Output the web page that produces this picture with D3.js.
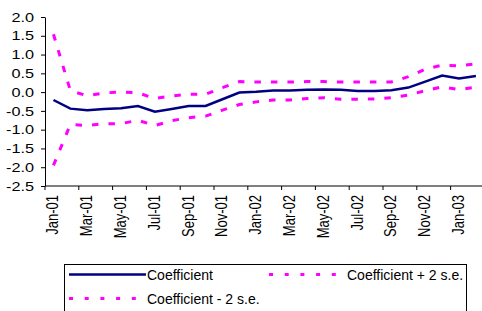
<!DOCTYPE html>
<html>
<head>
<meta charset="utf-8">
<title>Coefficient with 2 s.e. bands</title>
<script src="https://d3js.org/d3.v7.min.js"></script>
<style>
  body {margin: 0; background: #fff;}
  svg {display: block; font-family: "Liberation Sans", Arial, sans-serif;}
</style>
</head>
<body>
<svg width="482" height="311"></svg>
<script>
// months Jan-01 .. Feb-03
var months = ["Jan-01","Feb-01","Mar-01","Apr-01","May-01","Jun-01","Jul-01","Aug-01","Sep-01","Oct-01","Nov-01","Dec-01",
              "Jan-02","Feb-02","Mar-02","Apr-02","May-02","Jun-02","Jul-02","Aug-02","Sep-02","Oct-02","Nov-02","Dec-02",
              "Jan-03","Feb-03"];
var coef  = [-0.21,-0.44,-0.48,-0.45,-0.43,-0.37,-0.52,-0.45,-0.37,-0.37,-0.19,-0.01,
             0.01,0.04,0.04,0.06,0.07,0.06,0.03,0.03,0.05,0.12,0.28,0.44,0.36,0.43];
var upper = [1.54,0.04,-0.10,-0.02,0.00,-0.02,-0.17,-0.10,-0.06,-0.06,0.12,0.28,
             0.27,0.27,0.27,0.28,0.28,0.27,0.27,0.27,0.27,0.41,0.61,0.72,0.70,0.75];
var lower = [-1.95,-0.86,-0.89,-0.84,-0.84,-0.75,-0.89,-0.76,-0.68,-0.64,-0.48,-0.33,
             -0.26,-0.21,-0.21,-0.17,-0.15,-0.19,-0.19,-0.18,-0.15,-0.08,0.04,0.14,0.07,0.13];
var yTicks = [2.0,1.5,1.0,0.5,0.0,-0.5,-1.0,-1.5,-2.0,-2.5];
var legendNames = ["Coefficient","Coefficient + 2 s.e.","Coefficient - 2 s.e."];

var svg = d3.select("svg");
var plotLeft = 45, plotTop = 17, plotBottom = 186;
var stretch = 1.25; // axis labels in the picture are a bit wide

var x = d3.scaleBand().domain(months).range([plotLeft, plotLeft + 16.9 * months.length]);
var y = d3.scaleLinear().domain([-2.5, 2.0]).range([plotBottom, plotTop]);

// y axis
var yAxis = svg.append("g").attr("transform", "translate(" + plotLeft + ",0)")
  .call(d3.axisLeft(y).tickValues(yTicks).tickSize(4).tickSizeOuter(0)
        .tickFormat(function(d) { return d.toFixed(1); }));
yAxis.select(".domain").attr("stroke", "#000");
yAxis.selectAll("text").attr("x", -11 / stretch).attr("font-size", 13).attr("fill", "#000")
  .attr("font-family", "Liberation Sans, Arial, sans-serif")
  .attr("transform", "scale(" + stretch + ",1)");

// x axis line + ticks on every other category boundary
svg.append("line").attr("x1", plotLeft).attr("x2", 482).attr("y1", plotBottom).attr("y2", plotBottom)
  .attr("stroke", "#000");
var labelled = months.filter(function(d, i) { return i % 2 === 0; });
svg.selectAll(".xt").data(labelled).enter().append("line")
  .attr("x1", function(d) { return x(d); }).attr("x2", function(d) { return x(d); })
  .attr("y1", plotBottom).attr("y2", plotBottom + 4).attr("stroke", "#000");
svg.selectAll(".xl").data(labelled).enter().append("text")
  .attr("transform", function(d) {
    return "translate(" + (x(d) + x.bandwidth() / 2 + 5) + "," + (plotBottom + 9) + ") scale(" + stretch + ",1) rotate(-90)";
  })
  .attr("text-anchor", "end").attr("font-size", 13).text(function(d) { return d; });

// series
var line = d3.line().x(function(d, i) { return x(months[i]) + x.bandwidth() / 2; }).y(function(d) { return y(d); });
svg.append("path").datum(upper).attr("d", line).attr("fill", "none")
  .attr("stroke", "#ff00ff").attr("stroke-width", 3).attr("stroke-dasharray", "6.5,10");
svg.append("path").datum(lower).attr("d", line).attr("fill", "none")
  .attr("stroke", "#ff00ff").attr("stroke-width", 3).attr("stroke-dasharray", "6.5,10");
svg.append("path").datum(coef).attr("d", line).attr("fill", "none")
  .attr("stroke", "#000080").attr("stroke-width", 2.5);

// legend
svg.append("rect").attr("x", 64.5).attr("y", 264.5).attr("width", 402).attr("height", 60)
  .attr("fill", "#fff").attr("stroke", "#000");
var leg = [
  {name: legendNames[0], x: 69, y: 274.5, color: "#000080", dash: null},
  {name: legendNames[1], x: 269, y: 274.5, color: "#ff00ff", dash: "4,11.7"},
  {name: legendNames[2], x: 69, y: 298.5, color: "#ff00ff", dash: "4,11.7"}
];
leg.forEach(function(l) {
  svg.append("line").attr("x1", l.x).attr("x2", l.x + 77).attr("y1", l.y).attr("y2", l.y)
    .attr("stroke", l.color).attr("stroke-width", l.dash ? 3 : 2.5).attr("stroke-dasharray", l.dash);
  svg.append("text").attr("x", l.x + 78).attr("y", l.y + 5).attr("font-size", 14).text(l.name);
});
</script>
</body>
</html>
